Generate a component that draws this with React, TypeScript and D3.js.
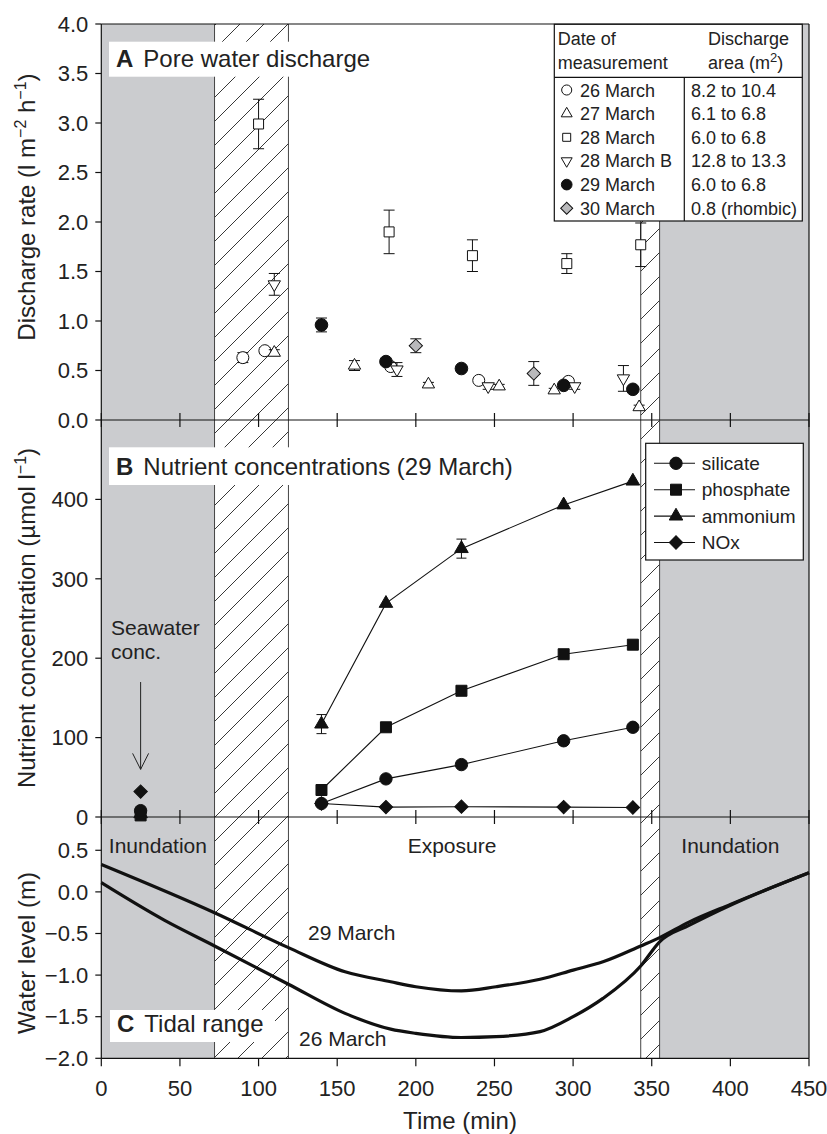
import React, { useEffect, useRef } from "react";
import {
    select,
    scaleLinear,
    line,
    symbol,
    symbolCircle,
    symbolSquare,
    symbolTriangle,
    curveMonotoneX,
    range,
    format
} from "d3";

// ---- panel A: pore water discharge (l m-2 h-1) ----
const dateLabels = ["26 March", "27 March", "28 March", "28 March B", "29 March", "30 March"];
const areaLabels = ["8.2 to 10.4", "6.1 to 6.8", "6.0 to 6.8", "12.8 to 13.3", "6.0 to 6.8", "0.8 (rhombic)"];

const mar26Time = [90, 104, 184, 240, 297];
const mar26Rate = [0.63, 0.7, 0.54, 0.4, 0.39];
const mar26Err = [0.05, 0.03, 0.03, 0.02, 0.03];

const mar27Time = [110, 161, 208, 253, 288, 342];
const mar27Rate = [0.68, 0.55, 0.36, 0.34, 0.3, 0.13];
const mar27Err = [0.03, 0.05, 0.02, 0.02, 0.02, 0.02];

const mar28Time = [100, 183, 236, 296, 343];
const mar28Rate = [2.99, 1.9, 1.66, 1.58, 1.77];
const mar28Err = [0.25, 0.22, 0.16, 0.1, 0.22];

const mar28bTime = [110, 188, 246, 301, 332];
const mar28bRate = [1.37, 0.51, 0.34, 0.34, 0.42];
const mar28bErr = [0.11, 0.07, 0.03, 0.03, 0.13];

const mar29Time = [140, 181, 229, 294, 338];
const mar29Rate = [0.96, 0.59, 0.52, 0.35, 0.31];
const mar29Err = [0.07, 0.02, 0.02, 0.02, 0.02];

const mar30Time = [200, 275];
const mar30Rate = [0.75, 0.47];
const mar30Err = [0.07, 0.12];

// ---- panel B: nutrients 29 March (umol l-1) ----
const nutrientTime = [140, 181, 229, 294, 338];
const silicate = [17, 48, 66, 96, 113];
const phosphate = [34, 113, 159, 205, 217];
const ammonium = [117, 269, 338, 393, 423];
const ammoniumErr = [12, 0, 12, 0, 0];
const nox = [17, 12.5, 13, 12.5, 12];
const seawaterTime = 25;
const seawater = { silicate: 8, phosphate: 2, ammonium: 4, nox: 32 };

// ---- panel C: water level (m) ----
const tideTime29 = [0, 72, 119, 155, 184, 200, 229, 251, 279, 300, 319, 343, 355, 374, 400, 450];
const tideLevel29 = [0.33, -0.25, -0.67, -0.96, -1.08, -1.14, -1.19, -1.14, -1.05, -0.94, -0.84, -0.65, -0.55, -0.36, -0.15, 0.23];
const tideTime26 = [0, 40, 72, 119, 155, 184, 200, 229, 251, 279, 300, 319, 343, 355, 374, 400, 450];
const tideLevel26 = [0.11, -0.34, -0.65, -1.11, -1.46, -1.65, -1.7, -1.75, -1.74, -1.68, -1.5, -1.28, -0.89, -0.6, -0.4, -0.16, 0.23];

// phases (min)
const inundationSpans = [[0, 72], [355, 450]];
const transitionSpans = [[72, 119], [343, 355]];

const timeTicks = range(0, 451, 50);
const rateTicks = range(0, 4.01, 0.5);
const nutrientTicks = [0, 100, 200, 300, 400];
const levelTicks = range(-2, 0.51, 0.5);

const FONT = "'Liberation Sans', Arial, Helvetica, sans-serif";

const markerPath = (kind: string, size: number) => {
    if (kind === "circle") return symbol().type(symbolCircle).size(size)();
    if (kind === "square" || kind === "diamond") return symbol().type(symbolSquare).size(size)();
    return symbol().type(symbolTriangle).size(size)();
};
const markerRot = (kind: string) => (kind === "diamond" ? 45 : kind === "triDown" ? 180 : 0);

const drawMarker = (g: any, kind: string, cx: number, cy: number, size: number, fill: string) => {
    g.append("path")
        .attr("d", markerPath(kind, size))
        .attr("transform", `translate(${cx},${cy}) rotate(${markerRot(kind)})`)
        .attr("fill", fill)
        .attr("stroke", "#111")
        .attr("stroke-width", 1);
};

export default function App() {
    const svgRef: any = useRef();

    useEffect(() => {
        const svg = select(svgRef.current);
        svg.selectAll("*").remove();

        const left = 101.3;
        const right = 809;
        const x = scaleLinear().domain([0, 450]).range([left, right]);
        const yA = scaleLinear().domain([0, 4]).range([420, 24]);
        const yB = scaleLinear().domain([0, 500]).range([817, 420]);
        const yC = scaleLinear().domain([-2, 0.9]).range([1058.3, 817]);
        const top = yA(4);
        const bottom = yC(-2);

        const defs = svg.append("defs");
        const pat = defs
            .append("pattern")
            .attr("id", "hatch")
            .attr("patternUnits", "userSpaceOnUse")
            .attr("width", 24)
            .attr("height", 24);
        pat.append("rect").attr("width", 24).attr("height", 24).attr("fill", "#fff");
        pat.append("path")
            .attr("d", "M0,24 L24,0 M-6,6 L6,-6 M18,30 L30,18")
            .attr("stroke", "#222")
            .attr("stroke-width", 0.9);

        // shading
        inundationSpans.forEach(([a, b]) => {
            svg.append("rect")
                .attr("x", x(a)).attr("y", top)
                .attr("width", x(b) - x(a)).attr("height", bottom - top)
                .attr("fill", "#cbcccf");
        });
        transitionSpans.forEach(([a, b]) => {
            svg.append("rect")
                .attr("x", x(a)).attr("y", top)
                .attr("width", x(b) - x(a)).attr("height", bottom - top)
                .attr("fill", "url(#hatch)");
        });
        [72, 119, 343, 355].forEach((t) => {
            svg.append("line")
                .attr("x1", x(t)).attr("x2", x(t))
                .attr("y1", top).attr("y2", bottom)
                .attr("stroke", "#444").attr("stroke-width", 1);
        });

        // frame
        const frame = svg.append("g").attr("stroke", "#111").attr("stroke-width", 1.2);
        [top, yA(0), yC(0.9), bottom].forEach((yy) => {
            frame.append("line").attr("x1", left).attr("x2", right).attr("y1", yy).attr("y2", yy);
        });
        frame.append("line").attr("x1", left).attr("x2", left).attr("y1", top).attr("y2", bottom);
        frame.append("line").attr("x1", right).attr("x2", right).attr("y1", top).attr("y2", bottom);

        // x ticks
        timeTicks.forEach((t) => {
            [yA(0), yB(0)].forEach((yy) => {
                frame.append("line").attr("x1", x(t)).attr("x2", x(t)).attr("y1", yy - 7).attr("y2", yy + 7);
            });
            frame.append("line").attr("x1", x(t)).attr("x2", x(t)).attr("y1", bottom).attr("y2", bottom + 8);
            svg.append("text")
                .attr("x", x(t)).attr("y", bottom + 38)
                .attr("text-anchor", "middle")
                .attr("font-size", 22).attr("font-family", FONT).attr("fill", "#222")
                .text(t);
        });

        // y ticks
        const yTicks = (scale: any, ticks: number[], fmt: any) => {
            ticks.forEach((v) => {
                frame.append("line").attr("x1", left - 6).attr("x2", left).attr("y1", scale(v)).attr("y2", scale(v));
                svg.append("text")
                    .attr("x", left - 13).attr("y", scale(v)).attr("dy", "0.35em")
                    .attr("text-anchor", "end")
                    .attr("font-size", 22).attr("font-family", FONT).attr("fill", "#222")
                    .text(fmt(v));
            });
        };
        yTicks(yA, rateTicks, format(".1f"));
        yTicks(yB, nutrientTicks, format("d"));
        yTicks(yC, levelTicks, format(".1f"));

        // axis titles
        const yTitle = (cy: number, parts: [string, boolean][]) => {
            const t = svg.append("text")
                .attr("transform", `translate(35,${cy}) rotate(-90)`)
                .attr("text-anchor", "middle")
                .attr("font-size", 24).attr("font-family", FONT).attr("fill", "#222");
            parts.forEach(([s, sup], i) => {
                const prevSup = i > 0 && parts[i - 1][1];
                t.append("tspan")
                    .attr("dy", sup ? -9 : prevSup ? 9 : 0)
                    .attr("font-size", sup ? 16 : 24)
                    .text(s);
            });
        };
        yTitle(207, [["Discharge rate (l m", false], ["\u22122", true], [" h", false], ["\u22121", true], [")", false]]);
        yTitle(618, [["Nutrient concentration (\u00b5mol l", false], ["\u22121", true], [")", false]]);
        yTitle(953, [["Water level (m)", false]]);
        svg.append("text")
            .attr("x", 460).attr("y", 1129)
            .attr("text-anchor", "middle")
            .attr("font-size", 24).attr("font-family", FONT).attr("fill", "#222")
            .text("Time (min)");

        // panel titles
        const panelTitle = (bx: number, by: number, bw: number, bh: number, letter: string, label: string) => {
            svg.append("rect").attr("x", bx).attr("y", by).attr("width", bw).attr("height", bh).attr("fill", "#fff");
            const t = svg.append("text")
                .attr("x", bx + 7).attr("y", by + bh - 10)
                .attr("font-size", 24).attr("font-family", FONT).attr("fill", "#222");
            t.append("tspan").attr("font-weight", "bold").text(letter);
            t.append("tspan").attr("dx", 10).text(label);
        };
        panelTitle(109, 41.7, 270, 35, "A", "Pore water discharge");
        panelTitle(109, 447.3, 412, 37.7, "B", "Nutrient concentrations (29 March)");
        panelTitle(110, 1010, 165, 32, "C", "Tidal range");

        // ---- panel A data ----
        const seriesA = [
            { t: mar26Time, v: mar26Rate, e: mar26Err, kind: "circle", fill: "#fff", size: 113 },
            { t: mar28Time, v: mar28Rate, e: mar28Err, kind: "square", fill: "#fff", size: 100 },
            { t: mar27Time, v: mar27Rate, e: mar27Err, kind: "triUp", fill: "#fff", size: 66 },
            { t: mar28bTime, v: mar28bRate, e: mar28bErr, kind: "triDown", fill: "#fff", size: 66 },
            { t: mar29Time, v: mar29Rate, e: mar29Err, kind: "circle", fill: "#111", size: 125 },
            { t: mar30Time, v: mar30Rate, e: mar30Err, kind: "diamond", fill: "#b9b9bb", size: 88 }
        ];
        const gA = svg.append("g");
        seriesA.forEach((s) => {
            s.t.forEach((t, i) => {
                const cx = x(t);
                const y1 = yA(s.v[i] + s.e[i]);
                const y2 = yA(s.v[i] - s.e[i]);
                const eb = gA.append("g").attr("stroke", "#111").attr("stroke-width", 1);
                eb.append("line").attr("x1", cx).attr("x2", cx).attr("y1", y1).attr("y2", y2);
                eb.append("line").attr("x1", cx - 5.5).attr("x2", cx + 5.5).attr("y1", y1).attr("y2", y1);
                eb.append("line").attr("x1", cx - 5.5).attr("x2", cx + 5.5).attr("y1", y2).attr("y2", y2);
                drawMarker(gA, s.kind, cx, yA(s.v[i]), s.size, s.fill);
            });
        });

        // legend table A
        const lt = svg.append("g");
        lt.append("rect").attr("x", 554.3).attr("y", 24.3).attr("width", 248).attr("height", 196.7)
            .attr("fill", "#fff").attr("stroke", "#111").attr("stroke-width", 1.2);
        lt.append("line").attr("x1", 554.3).attr("x2", 802.3).attr("y1", 77.3).attr("y2", 77.3).attr("stroke", "#111").attr("stroke-width", 1.2);
        lt.append("line").attr("x1", 684.3).attr("x2", 684.3).attr("y1", 77.3).attr("y2", 221).attr("stroke", "#111").attr("stroke-width", 1.2);
        const ltText = (tx: number, ty: number, s: string) =>
            lt.append("text").attr("x", tx).attr("y", ty)
                .attr("font-size", 18).attr("font-family", FONT).attr("fill", "#222").text(s);
        ltText(557.7, 45, "Date of");
        ltText(557.7, 69, "measurement");
        ltText(708, 45, "Discharge");
        const ar = ltText(708, 69, "area (m");
        ar.append("tspan").attr("dy", -7).attr("font-size", 13).text("2");
        ar.append("tspan").attr("dy", 7).text(")");
        const legendKinds = ["circle", "triUp", "square", "triDown", "circle", "diamond"];
        const legendFills = ["#fff", "#fff", "#fff", "#fff", "#111", "#b9b9bb"];
        const legendSizes = [80, 52, 64, 52, 90, 72];
        dateLabels.forEach((d, i) => {
            const cy = 90 + i * 23.65;
            drawMarker(lt, legendKinds[i], 566.7, cy, legendSizes[i], legendFills[i]);
            ltText(580, cy + 6.5, d);
            ltText(691, cy + 6.5, areaLabels[i]);
        });

        // ---- panel B data ----
        const seriesB = [
            { name: "NOx", v: nox, kind: "diamond", size: 90, sea: seawater.nox },
            { name: "ammonium", v: ammonium, kind: "triUp", size: 80, sea: seawater.ammonium },
            { name: "phosphate", v: phosphate, kind: "square", size: 121, sea: seawater.phosphate },
            { name: "silicate", v: silicate, kind: "circle", size: 120, sea: seawater.silicate }
        ];
        const gB = svg.append("g");
        const lineB = line<number>().x((_, i) => x(nutrientTime[i])).y((d) => yB(d));
        seriesB.forEach((s) => {
            gB.append("path").attr("d", lineB(s.v)).attr("fill", "none").attr("stroke", "#111").attr("stroke-width", 1.1);
        });
        ammoniumErr.forEach((e, i) => {
            if (!e) return;
            const cx = x(nutrientTime[i]);
            const y1 = yB(ammonium[i] + e);
            const y2 = yB(ammonium[i] - e);
            const eb = gB.append("g").attr("stroke", "#111").attr("stroke-width", 1);
            eb.append("line").attr("x1", cx).attr("x2", cx).attr("y1", y1).attr("y2", y2);
            eb.append("line").attr("x1", cx - 5).attr("x2", cx + 5).attr("y1", y1).attr("y2", y1);
            eb.append("line").attr("x1", cx - 5).attr("x2", cx + 5).attr("y1", y2).attr("y2", y2);
        });
        seriesB.forEach((s) => {
            s.v.forEach((v, i) => drawMarker(gB, s.kind, x(nutrientTime[i]), yB(v), s.size, "#111"));
            drawMarker(gB, s.kind, x(seawaterTime), yB(s.sea), s.size, "#111");
        });

        // seawater annotation
        const sx = x(seawaterTime);
        svg.append("text").attr("x", 111).attr("y", 635)
            .attr("font-size", 21).attr("font-family", FONT).attr("fill", "#222").text("Seawater");
        svg.append("text").attr("x", 111).attr("y", 658.5)
            .attr("font-size", 21).attr("font-family", FONT).attr("fill", "#222").text("conc.");
        const arrow = svg.append("g").attr("stroke", "#222").attr("stroke-width", 1).attr("fill", "none");
        arrow.append("line").attr("x1", sx).attr("x2", sx).attr("y1", yB(170)).attr("y2", yB(60));
        arrow.append("path").attr("d", `M${sx - 8},${yB(60) - 16} L${sx},${yB(60)} L${sx + 8},${yB(60) - 16}`);

        // legend B
        const lb = svg.append("g");
        lb.append("rect").attr("x", 645.7).attr("y", 443.3).attr("width", 157.6).attr("height", 116.7)
            .attr("fill", "#fff").attr("stroke", "#111").attr("stroke-width", 1.2);
        const legendB = [
            { name: "silicate", kind: "circle", size: 120 },
            { name: "phosphate", kind: "square", size: 121 },
            { name: "ammonium", kind: "triUp", size: 80 },
            { name: "NOx", kind: "diamond", size: 90 }
        ];
        legendB.forEach((s, i) => {
            const cy = 463.3 + i * 26.4;
            lb.append("line").attr("x1", 654).attr("x2", 695).attr("y1", cy).attr("y2", cy).attr("stroke", "#111").attr("stroke-width", 1.1);
            drawMarker(lb, s.kind, 676, cy, s.size, "#111");
            lb.append("text").attr("x", 701.7).attr("y", cy + 6.5)
                .attr("font-size", 19).attr("font-family", FONT).attr("fill", "#222").text(s.name);
        });

        // ---- panel C ----
        const tide = line<number>().curve(curveMonotoneX);
        const tidePath = (ts: number[], ls: number[]) =>
            tide(ts.map((t, i) => [x(t), yC(ls[i])]) as any);
        svg.append("path").attr("d", tidePath(tideTime29, tideLevel29))
            .attr("fill", "none").attr("stroke", "#111").attr("stroke-width", 3.2);
        svg.append("path").attr("d", tidePath(tideTime26, tideLevel26))
            .attr("fill", "none").attr("stroke", "#111").attr("stroke-width", 3.2);

        const label = (tx: number, ty: number, s: string, anchor = "start") =>
            svg.append("text").attr("x", tx).attr("y", ty).attr("text-anchor", anchor)
                .attr("font-size", 21).attr("font-family", FONT).attr("fill", "#222").text(s);
        label(x(36), 852.7, "Inundation", "middle");
        label(x(223), 852.7, "Exposure", "middle");
        label(x(400), 852.7, "Inundation", "middle");
        label(308, 940, "29 March");
        label(299, 1046, "26 March");
    }, []);

    return (
        <svg
            ref={svgRef}
            width={827}
            height={1134}
            style={{ position: "absolute", left: 0, top: 0, background: "#fff" }}
        />
    );
}
